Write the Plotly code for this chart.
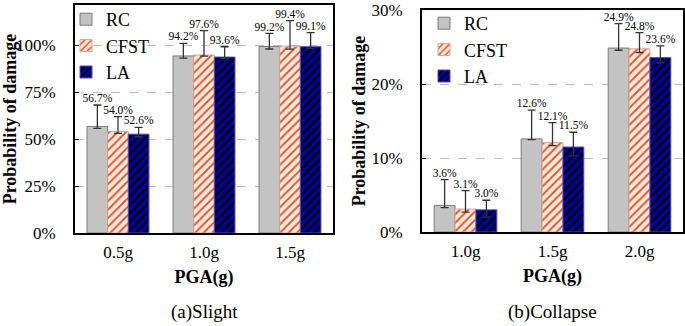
import plotly.graph_objects as go

# ---- data ----
series = ["RC", "CFST", "LA"]

cats_a = ["0.5g", "1.0g", "1.5g"]
vals_a = {"RC": [56.7, 94.2, 99.2], "CFST": [54.0, 94.7, 99.4], "LA": [52.6, 93.6, 99.1]}
labs_a = {"RC": ["56.7%", "94.2%", "99.2%"], "CFST": ["54.0%", "97.6%", "99.4%"], "LA": ["52.6%", "93.6%", "99.1%"]}
errp_a = {"RC": [11.4, 6.7, 7.0], "CFST": [7.9, 13.0, 13.6], "LA": [3.6, 5.5, 7.5]}
errm_a = {"RC": [1.0, 1.2, 1.3], "CFST": [1.0, 0.6, 1.6], "LA": [1.4, 0.7, 0.9]}

cats_b = ["1.0g", "1.5g", "2.0g"]
vals_b = {"RC": [3.6, 12.6, 24.9], "CFST": [3.1, 12.1, 24.8], "LA": [3.0, 11.5, 23.6]}
labs_b = {"RC": ["3.6%", "12.6%", "24.9%"], "CFST": ["3.1%", "12.1%", "24.8%"], "LA": ["3.0%", "11.5%", "23.6%"]}
errp_b = {"RC": [3.5, 3.9, 3.3], "CFST": [2.5, 2.7, 2.2], "LA": [1.3, 2.0, 1.6]}
errm_b = {"RC": [0.3, 0.1, 0.3], "CFST": [0.4, 0.4, 0.5], "LA": [1.0, 1.2, 0.7]}

ticks_a = [0, 25, 50, 75, 100]
ticks_b = [0, 10, 20, 30]

# ---- styles ----
FONT = "Liberation Serif"
W = 0.24
style = {
    "RC": dict(color="#c3c3c3", line=dict(color="#7a7a7a", width=1)),
    "CFST": dict(color="#fde9d6", line=dict(color="#d9a58f", width=1),
                 pattern=dict(shape="/", bgcolor="#fde9d6", fgcolor="#e2452b", size=6, solidity=0.3)),
    "LA": dict(color="#0000b0", line=dict(color="#4a4ad0", width=1),
               pattern=dict(shape="/", bgcolor="#0000b0", fgcolor="#000000", size=6, solidity=0.45)),
}

fig = go.Figure()

def add_panel(cats, vals, labs, errp, errm, xa, ya, leg):
    for j, s in enumerate(series):
        xs = [i + (j - 1) * W for i in range(len(cats))]
        fig.add_trace(go.Bar(
            x=xs, y=vals[s], width=W, name=s, marker=style[s],
            error_y=dict(type="data", symmetric=False, array=errp[s], arrayminus=errm[s],
                         color="#333333", thickness=1.3, width=4),
            xaxis=xa, yaxis=ya, legend=leg, legendgroup=leg + s, showlegend=True,
        ))
        fig.add_trace(go.Scatter(
            x=xs, y=[v + e for v, e in zip(vals[s], errp[s])], mode="text", text=labs[s],
            textposition="top center", textfont=dict(family=FONT, size=11.5, color="black"),
            xaxis=xa, yaxis=ya, showlegend=False, cliponaxis=False, hoverinfo="skip",
        ))

add_panel(cats_a, vals_a, labs_a, errp_a, errm_a, "x", "y", "legend")
add_panel(cats_b, vals_b, labs_b, errp_b, errm_b, "x2", "y2", "legend2")

axis_common = dict(showline=True, mirror=True, linecolor="black", linewidth=2, automargin=False,
                   ticks="inside", ticklen=4, tickcolor="black", ticklabeloverflow="allow",
                   tickfont=dict(family=FONT, size=17, color="black"))
xcommon = dict(axis_common, range=[-0.5, 2.5], tickvals=[0, 1, 2], ticks="", ticklabelstandoff=3,
               title=dict(text="<b>PGA(g)</b>", font=dict(family=FONT, size=18, color="black"), standoff=9))
ycommon = dict(axis_common, showgrid=True, gridcolor="#bdbdbd", griddash="dash", gridwidth=1,
               zeroline=False, ticklabelstandoff=14,
               title=dict(text="<b>Probability of damage</b>", font=dict(family=FONT, size=18, color="black"), standoff=1))

leg_common = dict(bgcolor="rgba(0,0,0,0)", font=dict(family=FONT, size=18, color="black"),
                  xanchor="left", yanchor="top", tracegroupgap=0, itemwidth=30)

fig.update_layout(
    template="none",
    width=685, height=326, margin=dict(l=0, r=0, t=0, b=0, autoexpand=False),
    paper_bgcolor="white", plot_bgcolor="white",
    font=dict(family=FONT, color="black"),
    barmode="overlay",
    xaxis=dict(xcommon, domain=[75 / 685, 333 / 685], ticktext=cats_a, anchor="y"),
    yaxis=dict(ycommon, domain=[93 / 326, 321 / 326], range=[0, 121.3], tickvals=ticks_a,
               ticktext=[f"{t}%" for t in ticks_a], anchor="x"),
    xaxis2=dict(xcommon, domain=[422 / 685, 683 / 685], ticktext=cats_b, anchor="y2"),
    yaxis2=dict(ycommon, domain=[94 / 326, 316 / 326], range=[0, 30.05], tickvals=ticks_b,
                ticktext=[f"{t}%" for t in ticks_b], anchor="x2"),
    legend=dict(leg_common, x=66 / 685, y=1 - 1 / 326),
    legend2=dict(leg_common, x=424 / 685, y=1 - 5 / 326),
    annotations=[
        dict(text="(a)Slight", x=204 / 685, y=1 - 312 / 326, xref="paper", yref="paper",
             xanchor="center", yanchor="middle",
             showarrow=False, font=dict(family=FONT, size=19, color="black")),
        dict(text="(b)Collapse", x=552 / 685, y=1 - 312 / 326, xref="paper", yref="paper",
             xanchor="center", yanchor="middle",
             showarrow=False, font=dict(family=FONT, size=19, color="black")),
    ],
)

fig.write_html("out.html", config={"displayModeBar": False},
               post_script="document.body.style.margin='0px';document.body.style.overflow='hidden';")
